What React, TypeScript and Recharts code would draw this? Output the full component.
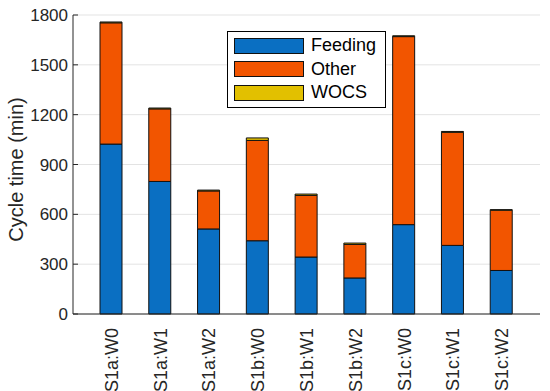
import React from 'react';
import { BarChart, Bar, XAxis, YAxis, CartesianGrid, Legend } from 'recharts';

const categories = ['S1a:W0', 'S1a:W1', 'S1a:W2', 'S1b:W0', 'S1b:W1', 'S1b:W2', 'S1c:W0', 'S1c:W1', 'S1c:W2'];
const feeding = [1023, 798, 512, 441, 343, 217, 538, 413, 262];
const other = [730, 437, 229, 604, 371, 202, 1132, 681, 363];
const wocs = [5, 5, 5, 15, 8, 8, 5, 5, 3];
const yTicks = [0, 300, 600, 900, 1200, 1500, 1800];

const data = categories.map((c, i) => ({ name: c, Feeding: feeding[i], Other: other[i], WOCS: wocs[i] }));

const FONT = '"Liberation Sans", Arial, Helvetica, sans-serif';
const TXT = '#262626';

const YTick = (props: any) => {
  const { x, y, payload } = props;
  const axisX = x + 5;
  return (
    <g>
      <line x1={axisX} x2={axisX + 5} y1={y} y2={y} stroke={TXT} strokeWidth={1} />
      <text x={x} y={y} dy="0.36em" textAnchor="end" fontSize={17} fontFamily={FONT} fill={TXT}>
        {payload.value}
      </text>
    </g>
  );
};

const XTick = (props: any) => {
  const { x, y, payload } = props;
  const ty = y + 6;
  return (
    <text
      x={x}
      y={ty}
      transform={`rotate(-90, ${x}, ${ty})`}
      textAnchor="end"
      dy="0.36em"
      fontSize={18}
      fontFamily={FONT}
      fill={TXT}
    >
      {payload.value}
    </text>
  );
};

const LegendBox = (props: any) => {
  const { payload } = props;
  return (
    <div
      style={{
        width: 157,
        height: 75,
        border: '1px solid #000',
        background: '#fff',
        position: 'relative',
        fontFamily: FONT,
      }}
    >
      {payload.map((p: any, i: number) => (
        <div key={p.value} style={{ position: 'absolute', left: 6, top: 5 + i * 23.5, height: 17, display: 'flex', alignItems: 'center' }}>
          <div style={{ width: 70, height: 16, background: p.color, border: '1px solid #111', boxSizing: 'border-box' }} />
          <span style={{ marginLeft: 7, fontSize: 18, color: '#000', lineHeight: '17px' }}>{p.value}</span>
        </div>
      ))}
    </div>
  );
};

const YLabel = (props: any) => {
  const { viewBox } = props;
  const cx = viewBox.x + 15.5;
  const cy = viewBox.y + viewBox.height / 2 + 5;
  return (
    <text
      x={cx}
      y={cy}
      transform={`rotate(-90, ${cx}, ${cy})`}
      textAnchor="middle"
      dominantBaseline="central"
      fontSize={20}
      fontFamily={FONT}
      fill={TXT}
    >
      Cycle time (min)
    </text>
  );
};

export default function App() {
  return (
    <div style={{ position: 'absolute', left: 0, top: 0, background: '#fff' }}>
      <BarChart width={550} height={391} data={data} margin={{ top: 15, right: 10, bottom: 0, left: 0 }}>
        <CartesianGrid vertical={false} stroke="#e3e3e3" strokeWidth={1} />
        <XAxis
          dataKey="name"
          padding={{ left: 14, right: 14 }}
          tick={<XTick />}
          tickLine={false}
          axisLine={{ stroke: TXT, strokeWidth: 1 }}
          interval={0}
          height={77}
        />
        <YAxis
          domain={[0, 1800]}
          ticks={yTicks}
          width={73}
          tick={<YTick />}
          tickLine={false}
          tickSize={0}
          tickMargin={5}
          axisLine={{ stroke: TXT, strokeWidth: 1 }}
          interval={0}
          label={<YLabel />}
        />
        <Legend
          layout="horizontal"
          verticalAlign="middle"
          align="center"
          content={<LegendBox />}
          wrapperStyle={{ position: 'absolute', left: 227, top: 31, width: 159, height: 77 }}
        />
        <Bar dataKey="Feeding" stackId="a" fill="#0A6FC2" stroke="#111" strokeWidth={1} barSize={22} isAnimationActive={false} />
        <Bar dataKey="Other" stackId="a" fill="#F25500" stroke="#111" strokeWidth={1} barSize={22} isAnimationActive={false} />
        <Bar dataKey="WOCS" stackId="a" fill="#E2C000" stroke="#111" strokeWidth={1} barSize={22} isAnimationActive={false} />
      </BarChart>
    </div>
  );
}
